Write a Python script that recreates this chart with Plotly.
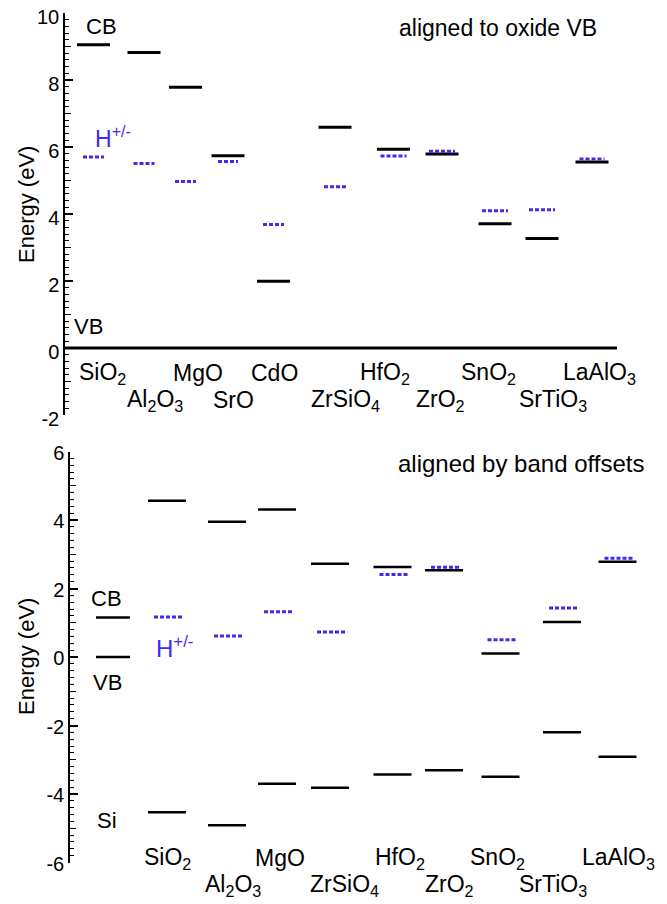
import plotly.graph_objects as go

# ---------------- data ----------------
top_oxides = ["SiO<sub>2</sub>", "Al<sub>2</sub>O<sub>3</sub>", "MgO", "SrO", "CdO",
              "ZrSiO<sub>4</sub>", "HfO<sub>2</sub>", "ZrO<sub>2</sub>", "SnO<sub>2</sub>",
              "SrTiO<sub>3</sub>", "LaAlO<sub>3</sub>"]
top_cb = [9.05, 8.82, 7.78, 5.74, 1.99, 6.59, 5.93, 5.79, 3.71, 3.27, 5.55]
top_h = [5.70, 5.51, 4.97, 5.57, 3.69, 4.81, 5.73, 5.87, 4.10, 4.13, 5.64]
top_vb = 0.0

bot_oxides = ["SiO<sub>2</sub>", "Al<sub>2</sub>O<sub>3</sub>", "MgO", "ZrSiO<sub>4</sub>",
              "HfO<sub>2</sub>", "ZrO<sub>2</sub>", "SnO<sub>2</sub>", "SrTiO<sub>3</sub>",
              "LaAlO<sub>3</sub>"]
bot_cb = [4.56, 3.95, 4.31, 2.72, 2.63, 2.53, 0.10, 1.02, 2.78]
bot_vb = [-4.53, -4.91, -3.70, -3.82, -3.43, -3.31, -3.50, -2.20, -2.91]
bot_h = [1.17, 0.61, 1.32, 0.73, 2.41, 2.62, 0.50, 1.43, 2.88]
si_cb = 1.15
si_vb = 0.0

top_ticks = [-2, 0, 2, 4, 6, 8, 10]
bot_ticks = [-6, -4, -2, 0, 2, 4, 6]

# ---------------- layout positions (slot units) ----------------
top_x = [1.0, 2.01, 2.84, 3.69, 4.6, 5.83, 7.0, 7.97, 9.03, 9.97, 10.97]
top_h_half = [0.21, 0.21, 0.21, 0.2, 0.21, 0.22, 0.26, 0.26, 0.26, 0.26, 0.25]
top_label_x = [1.18, 2.22, 3.08, 3.79, 4.62, 6.03, 6.82, 7.94, 8.89, 10.19, 11.12]
si_x = 1.39
bot_x = [2.47, 3.67, 4.67, 5.73, 6.98, 8.01, 9.14, 10.37, 11.48]
bot_label_x = [2.47, 3.79, 4.73, 6.02, 7.12, 8.11, 9.07, 10.18, 11.49]

FONT = "Liberation Sans, Arial, Helvetica, sans-serif"
BLUE = "#3d2cf0"
W, H = 667, 904
OFF = 8  # page body margin
XR = [(OFF - 43.5) / 50, (W + OFF - 43.5) / 50]


def px(p):  # page x pixel -> paper
    return (p - OFF) / W


def py(p):  # page y pixel -> paper
    return 1 - (p - OFF) / H


def segs(xs, ys, half):
    if not isinstance(half, (list, tuple)):
        half = [half] * len(xs)
    X, Y = [], []
    for x, y, h in zip(xs, ys, half):
        X += [x - h, x + h, None]
        Y += [y, y, None]
    return X, Y


fig = go.Figure()

# top panel
x, y = segs(top_x, top_cb, 0.33)
fig.add_trace(go.Scatter(x=x, y=y, mode="lines", line=dict(color="black", width=3),
                         xaxis="x", yaxis="y", hoverinfo="skip", showlegend=False))
x, y = segs(top_x, top_h, top_h_half)
fig.add_trace(go.Scatter(x=x, y=y, mode="lines", line=dict(color=BLUE, width=3, dash="4px,2px"),
                         xaxis="x", yaxis="y", hoverinfo="skip", showlegend=False))
fig.add_trace(go.Scatter(x=[top_x[0] - 0.59, top_x[-1] + 0.5], y=[top_vb, top_vb], mode="lines",
                         line=dict(color="black", width=3),
                         xaxis="x", yaxis="y", hoverinfo="skip", showlegend=False))

# bottom panel
x, y = segs([si_x, si_x], [si_cb, si_vb], 0.34)
fig.add_trace(go.Scatter(x=x, y=y, mode="lines", line=dict(color="black", width=2.5),
                         xaxis="x2", yaxis="y2", hoverinfo="skip", showlegend=False))
x, y = segs(bot_x + bot_x, bot_cb + bot_vb, 0.38)
fig.add_trace(go.Scatter(x=x, y=y, mode="lines", line=dict(color="black", width=2.5),
                         xaxis="x2", yaxis="y2", hoverinfo="skip", showlegend=False))
x, y = segs([v + 0.02 for v in bot_x], bot_h, 0.28)
fig.add_trace(go.Scatter(x=x, y=y, mode="lines", line=dict(color=BLUE, width=3, dash="4px,2px"),
                         xaxis="x2", yaxis="y2", hoverinfo="skip", showlegend=False))

# dummy traces for the medium-tick overlay axes
fig.add_trace(go.Scatter(x=[None], y=[None], xaxis="x", yaxis="y3", showlegend=False, hoverinfo="skip"))
fig.add_trace(go.Scatter(x=[None], y=[None], xaxis="x2", yaxis="y4", showlegend=False, hoverinfo="skip"))

ann = []
def A(text, x, y, xref, yref, size, color="black", **kw):
    ann.append(dict(text=text, x=x, y=y, xref=xref, yref=yref, showarrow=False,
                    xanchor="center", yanchor="middle",
                    font=dict(family=FONT, size=size, color=color), **kw))

# top annotations
A("CB", 1.15, 9.61, "x", "y", 22)
A("H<sup>+/-</sup>", 1.38, 6.30, "x", "y", 23, BLUE)
A("VB", 0.9, 0.63, "x", "y", 22)
A("aligned to oxide VB", 9.09, 9.55, "x", "y", 23)
for i, (t, lx) in enumerate(zip(top_oxides, top_label_x)):
    A(t, lx, py(373) if i % 2 == 0 else py(400), "x", "paper", 23)
A("Energy (eV)", px(26), py(205), "paper", "paper", 22, textangle=-90)

# bottom annotations
A("CB", 1.25, 1.72, "x2", "y2", 22)
A("VB", 1.27, -0.73, "x2", "y2", 22)
A("H<sup>+/-</sup>", 2.61, 0.28, "x2", "y2", 24, BLUE)
A("Si", 1.27, -4.76, "x2", "y2", 22)
A("aligned by band offsets", 9.55, 5.66, "x2", "y2", 24)
for i, (t, lx) in enumerate(zip(bot_oxides, bot_label_x)):
    A(t, lx, py(858) if i % 2 == 0 else py(885), "x2", "paper", 23)
A("Energy (eV)", px(26), py(657), "paper", "paper", 22, textangle=-90)


def yax(domain, rng, pos, ticks, shift):
    return dict(domain=domain, range=rng, anchor="free", position=pos, automargin=False,
                showline=True, linecolor="black", linewidth=1.5,
                ticks="inside", ticklen=8, tickwidth=1.5, tickcolor="black",
                tickvals=ticks, ticktext=[str(t) for t in ticks],
                ticklabeloverflow="allow", ticklabelshift=shift,
                tickfont=dict(family=FONT, size=20, color="black"),
                minor=dict(ticks="inside", ticklen=4, tickwidth=1, tickcolor="black", dtick=0.2),
                showgrid=False, zeroline=False, fixedrange=True)


def medax(over, domain, rng, pos):
    odd = [v for v in range(int(rng[0]), int(rng[1]) + 1) if v % 2 != 0]
    return dict(overlaying=over, domain=domain, range=rng, anchor="free", position=pos,
                automargin=False, showline=False, ticks="inside", ticklen=6, tickwidth=1.2,
                tickcolor="black", tickvals=odd, showticklabels=False, showgrid=False,
                zeroline=False)


top_dom = [py(415), py(13)]
bot_dom = [py(862.5), py(451.5)]

fig.update_layout(
    width=W, height=H,
    margin=dict(l=0, r=0, t=0, b=0, autoexpand=False),
    paper_bgcolor="white", plot_bgcolor="rgba(0,0,0,0)",
    xaxis=dict(domain=[0, 1], range=XR, visible=False, anchor="y", automargin=False),
    xaxis2=dict(domain=[0, 1], range=XR, visible=False, anchor="y2", automargin=False),
    yaxis=yax(top_dom, [-2, 10], px(64), top_ticks, 4),
    yaxis2=yax(bot_dom, [-6, 6], px(69), bot_ticks, 1),
    yaxis3=medax("y", top_dom, [-2, 10], px(64)),
    yaxis4=medax("y2", bot_dom, [-6, 6], px(69)),
    annotations=ann,
    showlegend=False,
)

fig.write_html("out.html")
